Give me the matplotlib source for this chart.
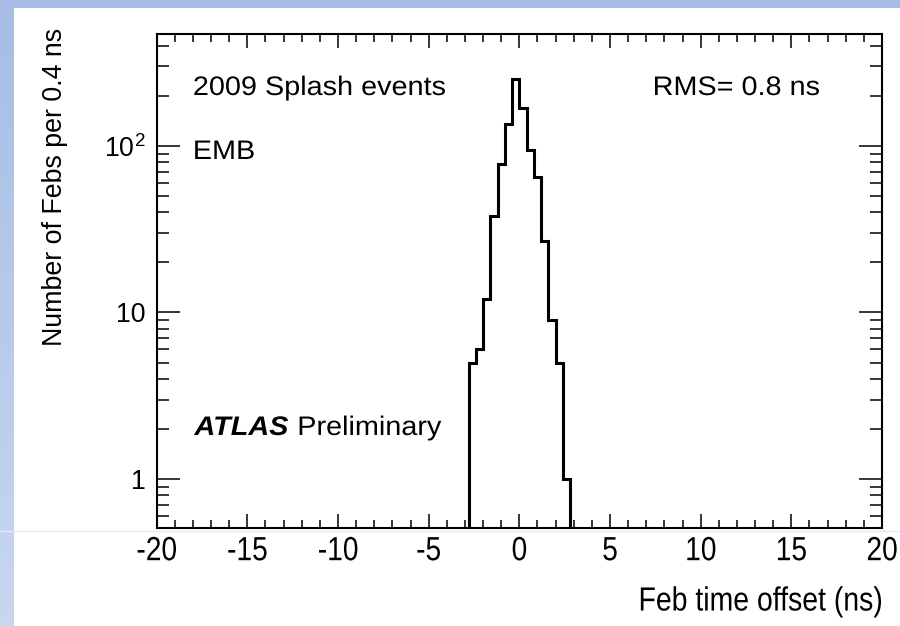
import numpy as np
import matplotlib
matplotlib.use("Agg")
import matplotlib.pyplot as plt
from matplotlib.patheffects import AbstractPathEffect
from matplotlib.transforms import Affine2D
from matplotlib.ticker import FixedLocator, LogLocator, MultipleLocator, NullFormatter

# ── data ─────────────────────────────────────────────────
bin_edges = [-2.8, -2.4, -2.0, -1.6, -1.2, -0.8, -0.4, 0.0,
             0.4, 0.8, 1.2, 1.6, 2.0, 2.4, 2.8]
n_febs = [5, 6, 12, 38, 78, 135, 252, 169, 95, 65, 27, 9, 5, 1]

x_ticks = [-20, -15, -10, -5, 0, 5, 10, 15, 20]
y_ticks = [1, 10, 100]
y_tick_labels = ["1", "10", r"$10^2$"]

FONT = "Liberation Sans"
plt.rcParams["font.family"] = [FONT, "DejaVu Sans"]
plt.rcParams["mathtext.fontset"] = "custom"
plt.rcParams["mathtext.rm"] = FONT
plt.rcParams["mathtext.it"] = FONT + ":italic"
FS = 19.3


# the original slide image is slightly stretched; mimic it on the text
class Stretch(AbstractPathEffect):
    def __init__(self, sx=1.0, sy=1.0, anchor=0.0):
        super().__init__()
        self.sx, self.sy, self.anchor = sx, sy, anchor

    def draw_path(self, renderer, gc, tpath, affine, rgbFace=None):
        ext = tpath.get_extents()
        x0 = ext.x0 + self.anchor * ext.width
        t = Affine2D().translate(-x0, 0).scale(self.sx, self.sy).translate(x0, 0)
        renderer.draw_path(gc, tpath, t + affine, rgbFace)


fig = plt.figure(figsize=(9, 6.26), dpi=100)

# light blue slide border (left + top)
strip = fig.add_axes([0, 0, 14 / 900, 1])
strip.imshow(np.linspace(0, 1, 100).reshape(-1, 1), aspect="auto",
             cmap=matplotlib.colors.LinearSegmentedColormap.from_list(
                 "s", ["#a7bde6", "#c8d6f0"]), extent=[0, 1, 0, 1])
strip.axis("off")
top = fig.add_axes([0, 1 - 8 / 626, 1, 8 / 626])
top.set_facecolor("#a7bde6")
top.set_xticks([]); top.set_yticks([])
for s in top.spines.values():
    s.set_visible(False)
fig.add_artist(plt.Line2D([0, 1], [1 - 531 / 626] * 2, color="#e3e8f2", lw=1))

ax = fig.add_axes([156.7 / 900, 1 - 527.7 / 626, 725.3 / 900, 493.7 / 626])
ax.stairs(n_febs, bin_edges, baseline=1e-3, color="black", linewidth=2.2)

ax.set_yscale("log")
ax.set_xlim(-20, 20)
ax.set_ylim(0.51, 470)

ax.xaxis.set_major_locator(FixedLocator(x_ticks))
ax.xaxis.set_minor_locator(MultipleLocator(1))
ax.yaxis.set_major_locator(FixedLocator(y_ticks))
ax.yaxis.set_minor_locator(LogLocator(base=10, subs=np.arange(2, 10)))
ax.yaxis.set_minor_formatter(NullFormatter())
ax.set_yticklabels(y_tick_labels, fontsize=FS)
ax.set_xticklabels([str(t) for t in x_ticks], fontsize=FS)

ax.tick_params(which="both", direction="in", top=True, right=True, width=1.1, colors="black")
ax.tick_params(axis="x", which="major", length=10.3, pad=9)
ax.tick_params(axis="x", which="minor", length=5.5)
ax.tick_params(axis="y", which="major", length=16.5, pad=8)
ax.tick_params(axis="y", which="minor", length=8.5)
for lab in ax.get_xticklabels():
    lab.set_path_effects([Stretch(1.05, 1.25, 0.5)])
for s in ax.spines.values():
    s.set_linewidth(1.5)

ax.set_ylabel("Number of Febs per 0.4 ns", fontsize=FS, loc="top")
ax.yaxis.set_label_coords(-0.122, 1.012)
xl = ax.set_xlabel("Feb time offset (ns)", fontsize=FS, loc="right", labelpad=17.5)
xl.set_path_effects([Stretch(1.06, 1.25, 1.0)])

wide = [Stretch(1.075, 1.0, 0.0)]
ax.text(0.050, 0.8906, "2009 Splash events", transform=ax.transAxes, fontsize=FS,
        va="center", path_effects=wide)
ax.text(0.050, 0.761, "EMB", transform=ax.transAxes, fontsize=FS, va="center",
        path_effects=wide)
ax.text(0.684, 0.8906, "RMS= 0.8 ns", transform=ax.transAxes, fontsize=FS, va="center",
        path_effects=wide)
ax.text(0.052, 0.202, "ATLAS", transform=ax.transAxes, fontsize=FS, va="center",
        fontweight="bold", fontstyle="italic", path_effects=wide)
ax.text(0.194, 0.202, "Preliminary", transform=ax.transAxes, fontsize=FS, va="center",
        path_effects=wide)

fig.savefig("out.png", dpi=100)
